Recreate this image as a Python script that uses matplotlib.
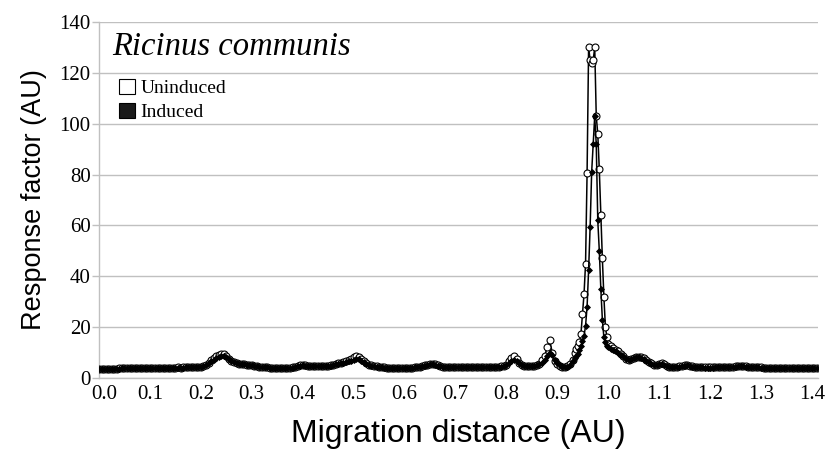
import numpy as np
import matplotlib
matplotlib.use("Agg")
import matplotlib.pyplot as plt
import matplotlib.transforms as mtransforms
from matplotlib.patches import Patch

# ---- data -------------------------------------------------------------
# sampling grid of migration distance (AU)
x_seg_a = np.arange(188) * 0.005            # 0.000 .. 0.935
x_seg_b = 0.9375 + np.arange(21) * 0.003    # 0.9375 .. 0.9975
x_seg_c = 1.0 + np.arange(83) * 0.005       # 1.000 .. 1.410
migration = np.round(np.concatenate([x_seg_a, x_seg_b, x_seg_c]), 4)

uninduced_a = [
    3.4, 3.5, 3.5, 3.6, 3.6, 3.7, 3.7, 3.7, 3.8, 3.8,
    3.8, 3.9, 3.9, 3.9, 3.9, 4.0, 4.0, 4.0, 4.0, 4.0,
    4.0, 4.1, 4.0, 4.0, 4.1, 4.1, 4.0, 4.1, 4.1, 4.1,
    4.1, 4.2, 4.1, 4.2, 4.2, 4.2, 4.2, 4.3, 4.3, 4.4,
    4.5, 4.8, 5.2, 6.0, 7.0, 7.8, 8.5, 9.2, 9.5, 9.3,
    8.6, 7.6, 6.8, 6.2, 5.9, 5.7, 5.5, 5.4, 5.3, 5.2,
    5.1, 4.9, 4.7, 4.5, 4.4, 4.3, 4.2, 4.1, 4.0, 4.0,
    4.0, 3.9, 3.9, 3.9, 3.9, 4.0, 4.2, 4.4, 4.7, 5.0,
    5.0, 5.0, 4.9, 4.9, 4.8, 4.8, 4.7, 4.7, 4.6, 4.7,
    4.8, 5.0, 5.2, 5.6, 5.8, 6.0, 6.2, 6.5, 7.0, 7.6,
    8.2, 8.5, 8.2, 7.5, 6.5, 5.8, 5.3, 5.0, 4.8, 4.6,
    4.5, 4.3, 4.2, 4.1, 4.0, 4.0, 3.9, 3.9, 3.9, 3.9,
    4.0, 4.0, 4.1, 4.1, 4.2, 4.3, 4.5, 4.7, 5.0, 5.3,
    5.5, 5.6, 5.4, 5.0, 4.6, 4.5, 4.4, 4.4, 4.4, 4.3,
    4.3, 4.3, 4.4, 4.4, 4.3, 4.3, 4.4, 4.4, 4.4, 4.4,
    4.4, 4.4, 4.4, 4.5, 4.5, 4.5, 4.5, 4.5, 4.6, 4.8,
    5.2, 6.5, 8.0, 8.5, 7.5, 6.0, 5.0, 4.7, 4.6, 4.6,
    4.7, 4.8, 5.0, 5.6, 7.0, 8.5, 12.0, 15.0, 10.0, 6.5,
    5.5, 4.8, 4.3, 4.2, 4.6, 5.5, 7.0, 10.0,
]
uninduced_b = [
    11.5, 12.5, 14.0, 17.5, 25.0, 33.0, 45.0, 80.5, 130.0, 125.0,
    124.0, 125.0, 130.0, 103.0, 96.0, 82.0, 64.0, 47.0, 32.0, 20.0,
    16.0,
]
uninduced_c = [
    13.5, 12.5, 11.8, 11.0, 10.5, 9.5, 8.5, 7.5, 7.0, 7.5,
    8.0, 8.4, 8.4, 8.2, 7.8, 7.0, 6.4, 5.8, 5.3, 5.1,
    5.5, 5.8, 5.4, 4.8, 4.5, 4.4, 4.4, 4.5, 4.6, 4.8,
    5.0, 5.1, 4.9, 4.6, 4.4, 4.3, 4.2, 4.2, 4.2, 4.2,
    4.2, 4.2, 4.2, 4.2, 4.2, 4.2, 4.3, 4.3, 4.4, 4.5,
    4.6, 4.7, 4.7, 4.7, 4.6, 4.5, 4.4, 4.3, 4.3, 4.2,
    4.2, 4.1, 4.1, 4.0, 4.0, 4.0, 4.0, 4.0, 3.9, 3.9,
    3.9, 3.9, 3.9, 3.9, 3.9, 3.9, 3.9, 4.0, 4.0, 4.0,
    4.0, 4.0, 4.1,
]

induced_a = [
    3.4, 3.4, 3.5, 3.5, 3.6, 3.6, 3.7, 3.7, 3.7, 3.8,
    3.8, 3.8, 3.9, 3.9, 3.9, 3.9, 4.0, 4.0, 4.0, 4.0,
    4.0, 4.0, 4.0, 4.0, 4.0, 4.1, 4.0, 4.0, 4.1, 4.1,
    4.1, 4.1, 4.1, 4.1, 4.2, 4.2, 4.2, 4.2, 4.3, 4.3,
    4.4, 4.7, 5.0, 5.8, 6.5, 7.2, 7.8, 8.4, 8.8, 8.8,
    8.2, 7.4, 6.6, 6.1, 5.8, 5.6, 5.5, 5.4, 5.3, 5.2,
    5.0, 4.8, 4.6, 4.5, 4.4, 4.3, 4.2, 4.1, 4.0, 4.0,
    3.9, 3.9, 3.8, 3.8, 3.9, 4.0, 4.1, 4.3, 4.6, 4.9,
    5.0, 4.9, 4.9, 4.8, 4.8, 4.7, 4.7, 4.6, 4.6, 4.6,
    4.7, 4.9, 5.1, 5.4, 5.6, 5.8, 6.0, 6.3, 6.6, 6.8,
    7.2, 7.5, 7.3, 6.8, 6.2, 5.6, 5.2, 4.9, 4.7, 4.5,
    4.4, 4.2, 4.1, 4.0, 4.0, 3.9, 3.9, 3.9, 3.9, 3.9,
    3.9, 4.0, 4.0, 4.1, 4.2, 4.3, 4.4, 4.6, 4.9, 5.2,
    5.4, 5.4, 5.2, 4.9, 4.6, 4.4, 4.4, 4.3, 4.3, 4.3,
    4.3, 4.3, 4.3, 4.3, 4.3, 4.3, 4.3, 4.4, 4.4, 4.4,
    4.4, 4.4, 4.4, 4.4, 4.4, 4.5, 4.5, 4.5, 4.5, 4.7,
    5.0, 5.8, 6.8, 7.2, 6.8, 5.8, 5.0, 4.7, 4.6, 4.6,
    4.7, 4.8, 5.0, 5.4, 6.0, 7.0, 8.5, 10.0, 9.0, 7.0,
    6.0, 5.0, 4.4, 4.2, 4.5, 5.2, 6.5, 8.0,
]
induced_b = [
    8.5, 9.5, 11.0, 12.5, 14.5, 16.5, 20.5, 28.0, 42.5, 59.5,
    81.0, 92.0, 103.0, 92.0, 62.0, 50.0, 35.0, 23.0, 16.0, 14.0,
    12.5,
]
induced_c = [
    12.0, 11.5, 11.0, 10.5, 10.0, 9.0, 8.5, 7.5, 7.0, 7.3,
    7.8, 8.2, 8.2, 8.0, 7.5, 6.8, 6.2, 5.6, 5.2, 5.0,
    5.4, 5.7, 5.3, 4.7, 4.5, 4.4, 4.4, 4.4, 4.5, 4.7,
    4.9, 5.0, 4.8, 4.5, 4.3, 4.2, 4.2, 4.2, 4.1, 4.1,
    4.1, 4.1, 4.2, 4.2, 4.2, 4.2, 4.2, 4.3, 4.3, 4.4,
    4.5, 4.6, 4.6, 4.6, 4.5, 4.4, 4.3, 4.3, 4.2, 4.2,
    4.1, 4.1, 4.0, 4.0, 4.0, 4.0, 3.9, 3.9, 3.9, 3.9,
    3.9, 3.9, 3.8, 3.8, 3.8, 3.9, 3.9, 3.9, 3.9, 4.0,
    4.0, 4.0, 4.0,
]

uninduced = np.array(uninduced_a + uninduced_b + uninduced_c)
induced = np.array(induced_a + induced_b + induced_c)

x_tick_values = [round(0.1 * i, 1) for i in range(15)]
x_tick_labels = [f"{v:.1f}" for v in x_tick_values]
y_tick_values = [0, 20, 40, 60, 80, 100, 120, 140]

species = "Ricinus communis"
series_names = ["Uninduced", "Induced"]

# ---- figure -----------------------------------------------------------
serif = ["Liberation Serif", "DejaVu Serif"]
sans = ["Liberation Sans", "DejaVu Sans"]

fig = plt.figure(figsize=(8.4, 4.54), dpi=100)
ax = fig.add_axes([0.1179, 0.1674, 0.8559, 0.7841])

grid_col = "#c0c0c0"
ax.set_xlim(0, 1.412)
ax.set_ylim(0, 140)
ax.set_yticks(y_tick_values)
ax.yaxis.grid(True, color=grid_col, lw=1.0)
ax.set_axisbelow(True)

ax.plot(migration, uninduced, color="black", lw=1.1, marker="o", ms=5,
        mfc="white", mec="black", mew=0.8, zorder=3)
ax.plot(migration, induced, color="black", lw=1.1, marker="D", ms=3,
        mfc="black", mec="black", mew=0.6, zorder=4)

ax.set_xticks(x_tick_values)
ax.set_xticklabels(x_tick_labels)
ax.set_xticks([0.2 * i for i in range(8)], minor=True)
ax.tick_params(axis="x", which="major", length=0, pad=5)
ax.tick_params(axis="x", which="minor", length=5, color=grid_col, width=1)
ax.tick_params(axis="y", length=5, color=grid_col, width=1, pad=1)

for lab in ax.get_xticklabels() + ax.get_yticklabels():
    lab.set_family(serif)
    lab.set_fontsize(15)

# nudge the first x label right so it clears the "0" of the y axis
first = ax.get_xticklabels()[0]
first.set_transform(first.get_transform() +
                    mtransforms.ScaledTranslation(5 / 100, 0, fig.dpi_scale_trans))

for s in ["top", "right"]:
    ax.spines[s].set_visible(False)
for s in ["left", "bottom"]:
    ax.spines[s].set_color(grid_col)
    ax.spines[s].set_linewidth(1.0)

ax.set_ylabel("Response factor (AU)", family=sans, fontsize=19.5, labelpad=9)
ax.set_xlabel("Migration distance (AU)", family=sans, fontsize=23, labelpad=11)

ax.text(0.018, 0.93, species, transform=ax.transAxes, family=serif,
        style="italic", fontsize=23.5, va="center", ha="left")

handles = [Patch(facecolor="white", edgecolor="black", lw=0.8),
           Patch(facecolor="#1a1a1a", edgecolor="black", lw=0.8)]
leg = ax.legend(handles, series_names, loc="upper left",
                bbox_to_anchor=(0.017, 0.862), frameon=False,
                prop={"family": serif, "size": 14},
                handlelength=0.8, handleheight=0.8, handletextpad=0.3,
                labelspacing=0.3, borderaxespad=0)

fig.savefig("out.png", dpi=100)
